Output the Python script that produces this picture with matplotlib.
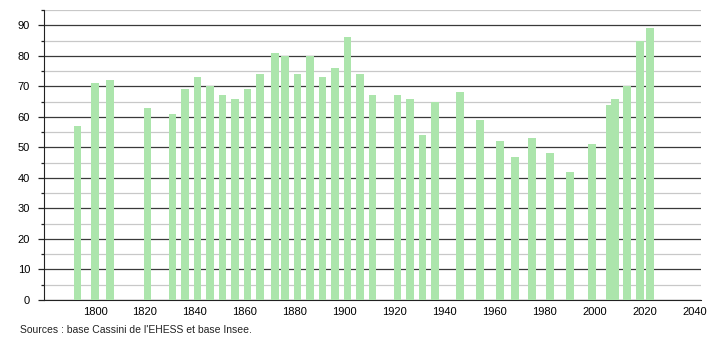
import numpy as np
import matplotlib.pyplot as plt

plt.rcParams['font.family'] = ['Liberation Sans', 'DejaVu Sans']

years = [1793, 1800, 1806, 1821, 1831, 1836, 1841, 1846, 1851, 1856, 1861, 1866,
         1872, 1876, 1881, 1886, 1891, 1896, 1901, 1906, 1911, 1921, 1926, 1931,
         1936, 1946, 1954, 1962, 1968, 1975, 1982, 1990, 1999, 2006, 2008, 2013,
         2018, 2022]
population = [57, 71, 72, 63, 61, 69, 73, 70, 67, 66, 69, 74,
              81, 80, 74, 80, 73, 76, 86, 74, 67, 67, 66, 54,
              65, 68, 59, 52, 47, 53, 48, 42, 51, 64, 66, 70,
              85, 89]
x_ticks = np.arange(1800, 2041, 20)
source = "Sources : base Cassini de l'EHESS et base Insee."

fig = plt.figure(figsize=(7.1, 3.4), dpi=100)
ax = fig.add_axes([0.062, 0.1176, 0.925, 0.853])

ax.bar(years, population, width=3.1, color='#ace5ac', zorder=3)

ax.set_xlim(1779.6, 2042.4)
ax.set_ylim(0, 95)
ax.set_yticks(np.arange(0, 91, 10))
ax.set_yticks(np.arange(5, 96, 10), minor=True)
ax.set_xticks(x_ticks)
ax.grid(axis='y', which='major', color='#3a3a3a', linewidth=0.9, zorder=1)
ax.grid(axis='y', which='minor', color='#c8c8c8', linewidth=0.9, zorder=1)
ax.tick_params(axis='y', which='major', length=4, width=0.9, labelsize=8, pad=6, color='#222222')
ax.tick_params(axis='y', which='minor', length=2, width=0.9, color='#222222')
ax.tick_params(axis='x', length=0, labelsize=8, pad=5)

for side in ['top', 'right']:
    ax.spines[side].set_visible(False)
ax.spines['left'].set_color('#222222')
ax.spines['bottom'].set_color('#222222')

fig.text(0.028, 0.02, source, fontsize=7.5, color='#222222')

fig.savefig('out.png', dpi=100)
